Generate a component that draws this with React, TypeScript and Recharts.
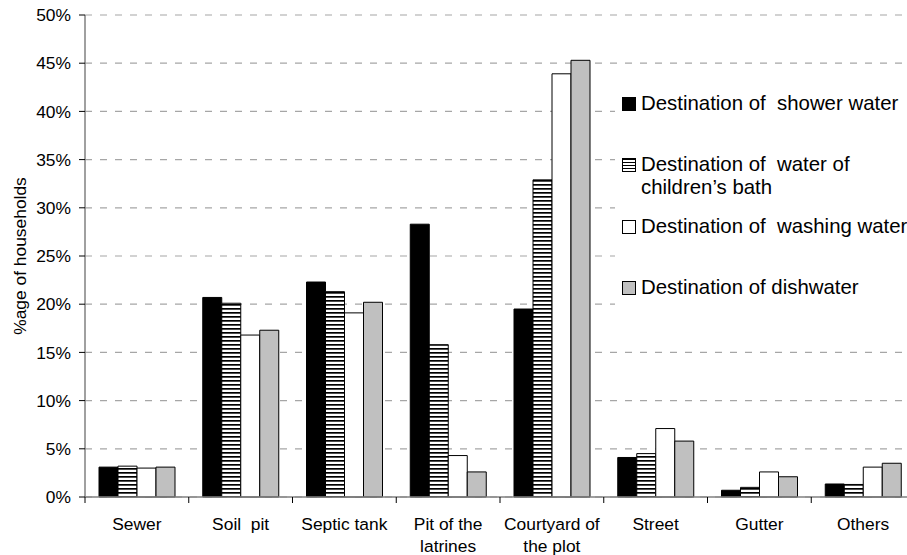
import React from "react";
import { BarChart, Bar, XAxis, YAxis, CartesianGrid, Legend, Label } from "recharts";

const categories = [
  "Sewer",
  "Soil  pit",
  "Septic tank",
  "Pit of the\nlatrines",
  "Courtyard of\nthe plot",
  "Street",
  "Gutter",
  "Others",
];
const shower = [3.1, 20.7, 22.3, 28.3, 19.5, 4.1, 0.7, 1.35];
const children = [3.2, 20.1, 21.3, 15.8, 32.9, 4.5, 1.0, 1.3];
const washing = [3.0, 16.8, 19.1, 4.3, 43.9, 7.1, 2.6, 3.1];
const dish = [3.1, 17.3, 20.2, 2.6, 45.3, 5.8, 2.1, 3.5];
const yTicks = [0, 5, 10, 15, 20, 25, 30, 35, 40, 45, 50];
const legendLabels = [
  "Destination of  shower water",
  "Destination of  water of\nchildren\u2019s bath",
  "Destination of  washing water",
  "Destination of dishwater",
];

const data = categories.map((c, i) => ({
  name: c,
  shower: shower[i],
  children: children[i],
  washing: washing[i],
  dish: dish[i],
}));

const FONT = "'Liberation Sans', Arial, sans-serif";
const W = 930;
const H = 555;
const M = { top: 15, right: 15, left: 0, bottom: 0 };
const YW = 85;
const XH = 58;
const BAND = (W - M.left - M.right - YW) / categories.length;

const XTick = (props: any) => {
  const { x, y, payload } = props;
  const lines = String(payload.value).split("\n");
  const bx = x - BAND / 2;
  return (
    <g>
      <line x1={bx} y1={y} x2={bx} y2={y + 6} stroke="#000" strokeWidth={1} />
      {lines.map((l, i) => (
        <text
          key={i}
          x={x}
          y={y + 33 + i * 22}
          textAnchor="middle"
          fontSize={17.4}
          fontFamily={FONT}
          fill="#000"
          style={{ whiteSpace: "pre" }}
        >
          {l}
        </text>
      ))}
    </g>
  );
};

const YLabel = () => (
  <text
    x={20}
    y={256}
    transform="rotate(-90 20 256)"
    textAnchor="middle"
    dominantBaseline="central"
    fontSize={17.4}
    fontFamily={FONT}
    fill="#000"
  >
    %age of households
  </text>
);

const markerStyles: React.CSSProperties[] = [
  { background: "#000" },
  { background: "repeating-linear-gradient(to bottom, #000 0px, #000 1.5px, #fff 1.5px, #fff 3px)" },
  { background: "#fff" },
  { background: "#c0c0c0" },
];
const legendCenters = [28, 89, 151, 212];

const LegendContent = () => (
  <div style={{ position: "relative", width: "100%", height: "100%", fontFamily: FONT, fontSize: 20.4, color: "#000" }}>
    {legendLabels.map((lab, i) => {
      const lines = lab.split("\n");
      const c = legendCenters[i];
      return (
        <div key={i}>
          <div
            style={{
              position: "absolute",
              left: 7,
              top: c - 6.5,
              width: 12,
              height: 12,
              border: "1px solid #000",
              boxSizing: "content-box",
              ...markerStyles[i],
            }}
          />
          {lines.map((l, j) => (
            <div
              key={j}
              style={{
                position: "absolute",
                left: 26,
                top: c - 11.5 + j * 23,
                height: 23,
                lineHeight: "23px",
                whiteSpace: "pre",
              }}
            >
              {l}
            </div>
          ))}
        </div>
      );
    })}
  </div>
);

export default function App() {
  return (
    <div style={{ position: "absolute", left: 0, top: 0, width: 907, height: 555, overflow: "hidden", background: "#fff" }}>
      <BarChart width={W} height={H} data={data} margin={M} barCategoryGap={14} barGap={0}>
        <defs>
          <pattern id="hatch" patternUnits="userSpaceOnUse" width={8} height={4}>
            <rect x={0} y={0} width={8} height={4} fill="#fff" />
            <rect x={0} y={0} width={8} height={1.7} fill="#000" />
          </pattern>
        </defs>
        <CartesianGrid vertical={false} stroke="#a6a6a6" strokeDasharray="7 8" strokeWidth={1.2} />
        <XAxis
          dataKey="name"
          height={XH}
          interval={0}
          tickLine={false}
          tickSize={0}
          tickMargin={0}
          axisLine={{ stroke: "#808080", strokeWidth: 1.5 }}
          tick={<XTick />}
        />
        <YAxis
          width={YW}
          domain={[0, 50]}
          ticks={yTicks}
          interval={0}
          tickFormatter={(v: number) => `${v}%`}
          tickSize={6}
          tickMargin={8}
          axisLine={{ stroke: "#808080", strokeWidth: 1.5 }}
          tickLine={{ stroke: "#000" }}
          tick={{ fontSize: 17.4, fontFamily: FONT, fill: "#000" }}
        >
          <Label content={<YLabel />} />
        </YAxis>
        <Legend
          layout="horizontal"
          verticalAlign="middle"
          align="center"
          content={<LegendContent />}
          wrapperStyle={{ position: "absolute", left: 615, top: 75, width: 292, height: 245, background: "#fff" }}
        />
        <Bar dataKey="shower" fill="#000" stroke="#000" strokeWidth={1} isAnimationActive={false} />
        <Bar dataKey="children" fill="url(#hatch)" stroke="#000" strokeWidth={1} isAnimationActive={false} />
        <Bar dataKey="washing" fill="#fff" stroke="#000" strokeWidth={1} isAnimationActive={false} />
        <Bar dataKey="dish" fill="#c0c0c0" stroke="#000" strokeWidth={1} isAnimationActive={false} />
      </BarChart>
    </div>
  );
}
